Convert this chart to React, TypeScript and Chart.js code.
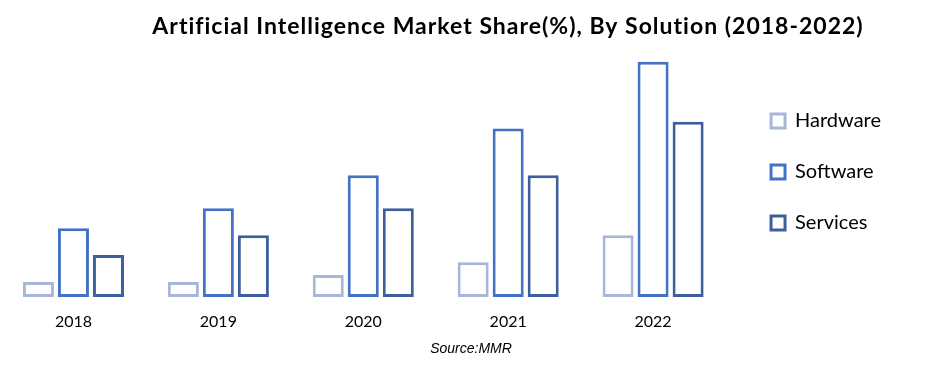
import React, { useEffect, useRef } from "react";
import { Chart, registerables } from "chart.js";

Chart.register(...registerables);

const TITLE = "Artificial Intelligence Market Share(%), By Solution (2018-2022)";
const SOURCE = "Source:MMR";
const years = ["2018", "2019", "2020", "2021", "2022"];
const hardware = [6.3, 6.3, 9.3, 14.7, 26.1];
const software = [29.1, 37.5, 51.4, 71.2, 99.4];
const services = [17.7, 26.1, 37.5, 51.4, 74.1];
const Y_MAX = 120;

const textPlugin = {
  id: "textPlugin",
  afterDraw(chart: any) {
    const ctx = chart.ctx;
    ctx.save();
    ctx.fillStyle = "#000000";
    ctx.textAlign = "center";
    ctx.textBaseline = "alphabetic";
    ctx.font = "bold 23px Lato";
    try { (ctx as any).letterSpacing = "1px"; } catch (e) {}
    ctx.fillText(TITLE, 508, 34);
    try { (ctx as any).letterSpacing = "0px"; } catch (e) {}
    ctx.font = "italic 14px 'Liberation Sans'";
    ctx.textBaseline = "middle";
    ctx.fillText(SOURCE, 471, 349);
    ctx.restore();
  },
};

export default function App() {
  const ref = useRef<HTMLCanvasElement | null>(null);
  useEffect(() => {
    if (!ref.current) return;
    const chart = new Chart(ref.current, {
      type: "bar",
      data: {
        labels: years,
        datasets: [
          { label: "Hardware", data: hardware, backgroundColor: "#ffffff", borderColor: "#A7B6D9", borderWidth: 3, borderSkipped: false },
          { label: "Software", data: software, backgroundColor: "#ffffff", borderColor: "#4472C4", borderWidth: 3, borderSkipped: false },
          { label: "Services", data: services, backgroundColor: "#ffffff", borderColor: "#3D5F9E", borderWidth: 3, borderSkipped: false },
        ],
      },
      options: {
        animation: false,
        responsive: true,
        maintainAspectRatio: false,
        datasets: { bar: { categoryPercentage: 0.725, barPercentage: 0.886 } },
        layout: { padding: { left: 1, top: 13, bottom: 37, right: 50 } },
        plugins: {
          title: { display: false },
          tooltip: { enabled: false },
          legend: {
            position: "right",
            labels: {
              boxWidth: 14,
              boxHeight: 14,
              padding: 31,
              color: "#000000",
              font: { family: "Lato", size: 20 },
            },
          },
        },
        scales: {
          x: {
            grid: { display: false, drawTicks: false },
            border: { display: false },
            ticks: { color: "#000000", font: { family: "Lato", size: 16 }, padding: 15 },
            afterFit: (s: any) => { s.height = 34; },
          },
          y: {
            position: "right",
            min: 0,
            max: Y_MAX,
            grid: { display: false, drawTicks: false },
            border: { display: false },
            ticks: { display: false },
            afterFit: (s: any) => { s.width = 14.5; },
          },
        },
      },
      plugins: [textPlugin],
    });
    return () => chart.destroy();
  }, []);
  return (
    <div style={{ position: "absolute", left: 0, top: 0, width: 941, height: 368 }}>
      <canvas ref={ref} />
    </div>
  );
}
